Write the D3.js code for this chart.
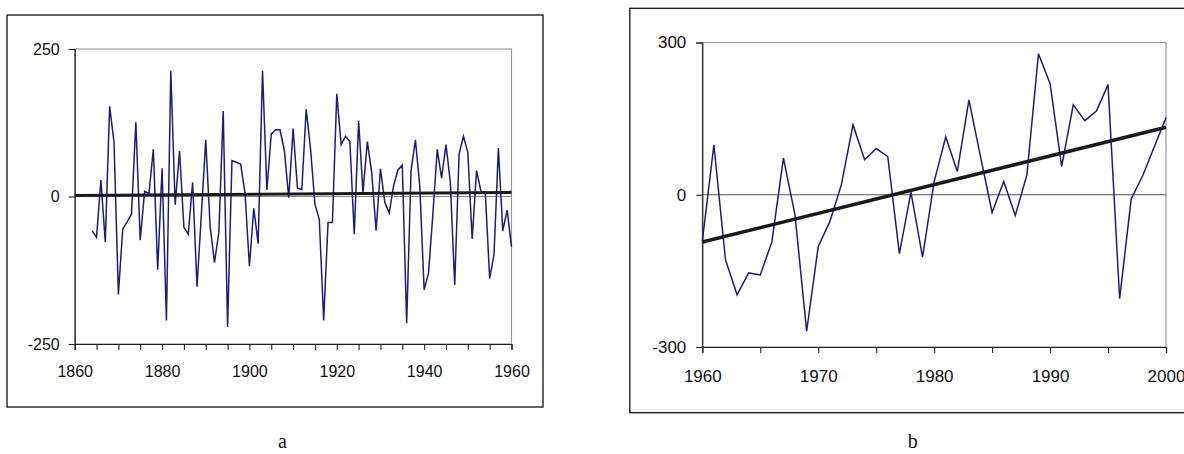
<!DOCTYPE html>
<html>
<head>
<meta charset="utf-8">
<script src="https://cdn.jsdelivr.net/npm/d3@7"></script>
<style>
  html, body { margin: 0; padding: 0; background: #fff; }
  svg { display: block; }
</style>
</head>
<body>
<svg id="chart" width="1184" height="454"></svg>
<script>
// ---------- DATA ----------
// Panel a: yearly anomalies 1864-1960
const yearsA = d3.range(1864, 1961);
const valuesA = [
  -58, -69, 28, -77, 153, 92, -166, -55, -43, -30,
  126, -74, 9, 5, 80, -124, 48, -210, 213, -14,
  77, -52, -64, 24, -153, -30, 96, -50, -112, -61,
  145, -221, 61, 58, 55, 5, -118, -20, -80, 213,
  11, 106, 113, 113, 78, -2, 115, 14, 12, 148,
  80, -13, -39, -210, -44, -44, 174, 88, 102, 93,
  -64, 128, 7, 93, 40, -58, 47, -10, -28, 18,
  45, 53, -215, 44, 96, 18, -158, -130, -30, 80,
  31, 88, 24, -150, 72, 102, 75, -72, 44, 9,
  7, -139, -98, 82, -58, -23, -85
];
const trendA = [[1860, 1.5], [1960, 7]];
const xTicksA = d3.range(1860, 1961, 5);
const xLabelsA = [1860, 1880, 1900, 1920, 1940, 1960];
const yTicksA = [-250, 0, 250];

// Panel b: yearly anomalies 1960-2000
const yearsB = d3.range(1960, 2001);
const valuesB = [
  -92, 98, -128, -197, -154, -158, -93, 72, -40, -269,
  -102, -53, 20, 138, 69, 91, 75, -116, 5, -123,
  26, 114, 46, 187, 75, -35, 26, -41, 39, 278,
  219, 56, 177, 146, 165, 217, -205, -8, 38, 95,
  152
];
const trendB = [[1960, -93], [2000, 133]];
const xTicksB = d3.range(1960, 2001, 5);
const xLabelsB = [1960, 1970, 1980, 1990, 2000];
const yTicksB = [-300, 0, 300];

const panelLabels = ["a", "b"];

// ---------- DRAW ----------
const svg = d3.select("#chart");
const seriesColor = "#1c1c7c";

function panel(cfg) {
  const g = svg.append("g");
  // outer frame
  g.append("rect")
    .attr("x", cfg.box[0]).attr("y", cfg.box[1])
    .attr("width", cfg.box[2]).attr("height", cfg.box[3])
    .attr("fill", "none").attr("stroke", "#111").attr("stroke-width", 1.3);

  const x = d3.scaleLinear().domain(cfg.xDomain).range(cfg.xRange);
  const y = d3.scaleLinear().domain(cfg.yDomain).range(cfg.yRange);

  // plot area border (gray)
  g.append("rect")
    .attr("x", cfg.xRange[0]).attr("y", cfg.yRange[1])
    .attr("width", cfg.xRange[1] - cfg.xRange[0])
    .attr("height", cfg.yRange[0] - cfg.yRange[1])
    .attr("fill", "none").attr("stroke", "#9a9a9a").attr("stroke-width", 1.2);

  // zero gridline
  g.append("line")
    .attr("x1", cfg.xRange[0]).attr("x2", cfg.xRange[1])
    .attr("y1", y(0)).attr("y2", y(0))
    .attr("stroke", cfg.zeroColor).attr("stroke-width", cfg.zeroWidth);

  // axes
  const xAxis = d3.axisBottom(x)
    .tickValues(cfg.xTicks)
    .tickSize(6)
    .tickPadding(cfg.xPad)
    .tickFormat(d => cfg.xLabels.includes(d) ? String(d) : "");
  const gx = g.append("g")
    .attr("transform", `translate(0,${cfg.yRange[0]})`)
    .call(xAxis);

  const yAxis = d3.axisLeft(y)
    .tickValues(cfg.yTicks)
    .tickSize(6)
    .tickPadding(cfg.yPad)
    .tickFormat(d => String(d));
  const gy = g.append("g")
    .attr("transform", `translate(${cfg.xRange[0]},0)`)
    .call(yAxis);

  [gx, gy].forEach(a => {
    a.selectAll("path.domain").attr("stroke", "#222").attr("stroke-width", 1.2);
    a.selectAll(".tick line").attr("stroke", "#222").attr("stroke-width", 1.1);
    a.selectAll(".tick text")
      .attr("font-family", "'Liberation Sans', Arial, sans-serif")
      .attr("font-size", cfg.fontSize)
      .attr("fill", "#111");
  });

  // data line
  const line = d3.line().x(d => x(d[0])).y(d => y(d[1]));
  g.append("path")
    .datum(cfg.years.map((yr, i) => [yr, cfg.values[i]]))
    .attr("d", line)
    .attr("fill", "none")
    .attr("stroke", seriesColor)
    .attr("stroke-width", 1.5)
    .attr("stroke-linejoin", "miter");

  // trend line
  g.append("path")
    .datum(cfg.trend)
    .attr("d", line)
    .attr("fill", "none")
    .attr("stroke", "#1a1a1a")
    .attr("stroke-width", cfg.trendWidth);

  // panel label
  g.append("text")
    .attr("x", cfg.labelPos[0]).attr("y", cfg.labelPos[1])
    .attr("text-anchor", "middle")
    .attr("font-family", "'Liberation Serif', 'Times New Roman', serif")
    .attr("font-size", 20)
    .attr("fill", "#111")
    .text(cfg.label);
}

panel({
  box: [7, 15, 536, 392],
  xDomain: [1860, 1960], xRange: [74.7, 511.5],
  yDomain: [-250, 250], yRange: [344, 49],
  xTicks: xTicksA, xLabels: xLabelsA, yTicks: yTicksA,
  years: yearsA, values: valuesA, trend: trendA,
  zeroColor: "#8a8a8a", zeroWidth: 1.2, trendWidth: 3,
  xPad: 16, yPad: 9, fontSize: 16,
  label: panelLabels[0], labelPos: [282.5, 448]
});

panel({
  box: [629.8, 8.3, 600, 404.4],
  xDomain: [1960, 2000], xRange: [702.3, 1166],
  yDomain: [-300, 300], yRange: [347, 42.5],
  xTicks: xTicksB, xLabels: xLabelsB, yTicks: yTicksB,
  years: yearsB, values: valuesB, trend: trendB,
  zeroColor: "#555", zeroWidth: 1, trendWidth: 3.5,
  xPad: 17, yPad: 10, fontSize: 17,
  label: panelLabels[1], labelPos: [912.8, 448]
});
</script>
</body>
</html>
